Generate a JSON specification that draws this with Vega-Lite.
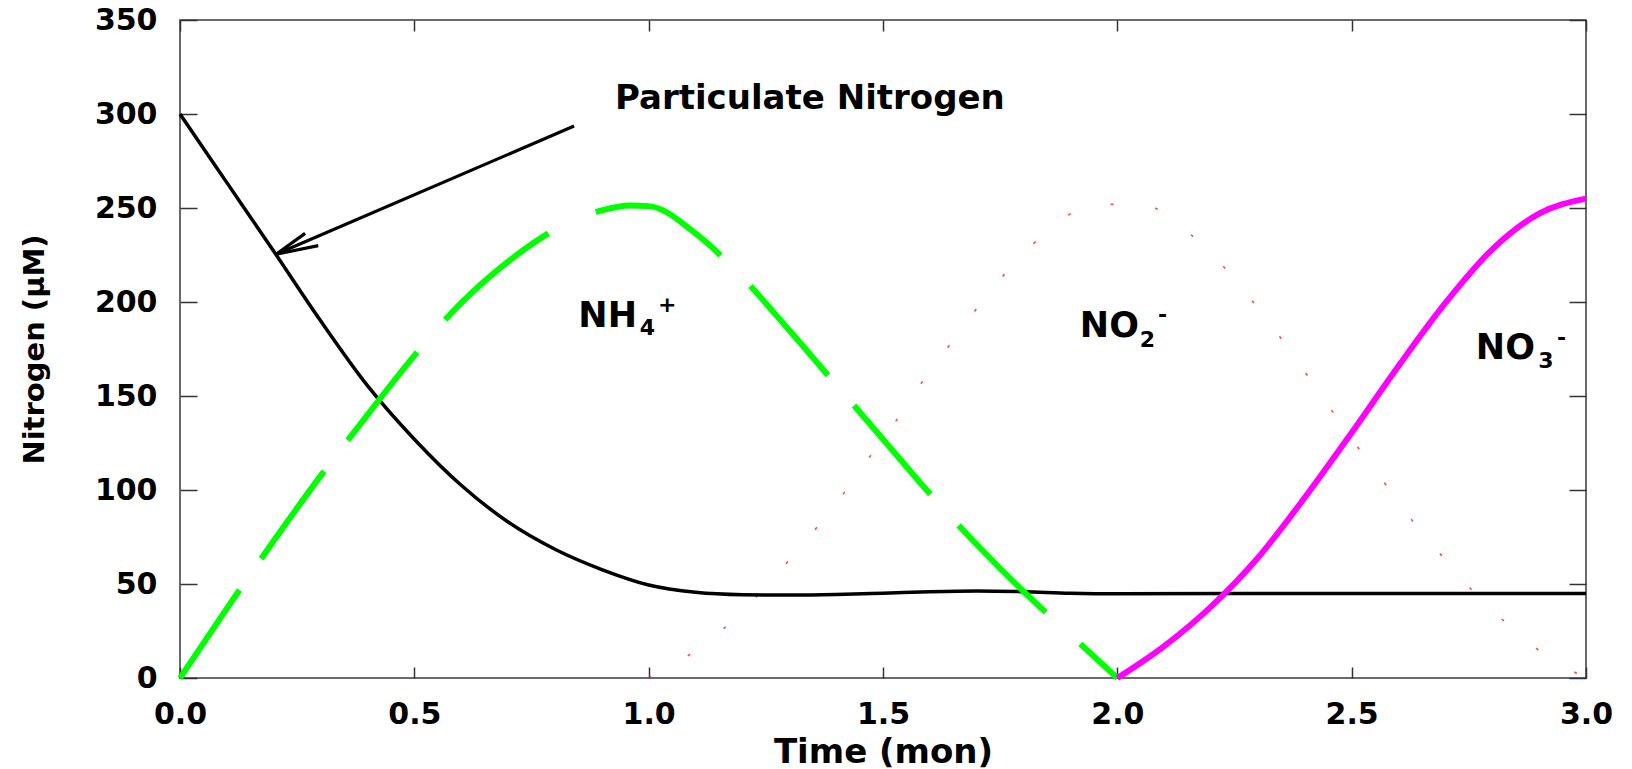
{
  "$schema": "https://vega.github.io/schema/vega-lite/v6.json",
  "width": 1406,
  "height": 658,
  "autosize": {"type": "none"},
  "padding": {"left": 180, "top": 20, "right": 46, "bottom": 91},
  "background": "white",
  "config": {
    "view": {"stroke": "#3a3a3a", "strokeWidth": 1.5},
    "axis": {
      "labelFont": "DejaVu Sans", "labelFontWeight": "bold", "labelFontSize": 30, "labelColor": "#000",
      "titleFont": "DejaVu Sans", "titleFontWeight": "bold", "titleColor": "#000",
      "domain": false, "grid": false, "tickColor": "#333", "tickWidth": 1.5,
      "labelFlush": false, "labelOverlap": false, "labelBound": false
    }
  },
  "datasets": {
    "pn": [
      {"t": 0, "v": 300}, {"t": 0.1, "v": 263.5}, {"t": 0.2, "v": 227}, {"t": 0.3, "v": 190},
      {"t": 0.4, "v": 155.5}, {"t": 0.5, "v": 127}, {"t": 0.6, "v": 102.5}, {"t": 0.7, "v": 83},
      {"t": 0.8, "v": 68.5}, {"t": 0.9, "v": 57.7}, {"t": 1.0, "v": 49.5}, {"t": 1.1, "v": 45.6},
      {"t": 1.2, "v": 44.3}, {"t": 1.3, "v": 44.1}, {"t": 1.4, "v": 44.4}, {"t": 1.5, "v": 45.1},
      {"t": 1.6, "v": 45.9}, {"t": 1.7, "v": 46.3}, {"t": 1.8, "v": 45.9}, {"t": 1.9, "v": 45.1},
      {"t": 2.0, "v": 44.8}, {"t": 2.5, "v": 45}, {"t": 3.0, "v": 45}
    ],
    "nh4": [
      {"t": 0, "v": 0}, {"t": 0.1, "v": 37}, {"t": 0.2, "v": 73}, {"t": 0.3, "v": 107.5},
      {"t": 0.4, "v": 140}, {"t": 0.5, "v": 171.5}, {"t": 0.6, "v": 199.5}, {"t": 0.7, "v": 221.5},
      {"t": 0.8, "v": 238.5}, {"t": 0.9, "v": 248.7}, {"t": 0.96, "v": 251.3}, {"t": 1.0, "v": 251},
      {"t": 1.1, "v": 236.5}, {"t": 1.2, "v": 213}, {"t": 1.3, "v": 185}, {"t": 1.4, "v": 156},
      {"t": 1.5, "v": 127}, {"t": 1.6, "v": 98}, {"t": 1.7, "v": 71}, {"t": 1.8, "v": 46},
      {"t": 1.9, "v": 23}, {"t": 2.0, "v": 0}
    ],
    "no2": [
      {"t": 1.0, "v": 0}, {"t": 1.102, "v": 14.9}, {"t": 1.184, "v": 31.7}, {"t": 1.252, "v": 49.1},
      {"t": 1.312, "v": 66.3}, {"t": 1.369, "v": 83.2}, {"t": 1.423, "v": 100.5}, {"t": 1.471, "v": 117.4},
      {"t": 1.522, "v": 134.6}, {"t": 1.568, "v": 152}, {"t": 1.618, "v": 168.8}, {"t": 1.668, "v": 186},
      {"t": 1.721, "v": 203.2}, {"t": 1.78, "v": 220.6}, {"t": 1.851, "v": 237.4}, {"t": 1.952, "v": 252},
      {"t": 2.055, "v": 251.6}, {"t": 2.155, "v": 236.2}, {"t": 2.225, "v": 219.3}, {"t": 2.283, "v": 202},
      {"t": 2.336, "v": 185.1}, {"t": 2.386, "v": 167.9}, {"t": 2.434, "v": 150.5}, {"t": 2.482, "v": 133.7},
      {"t": 2.531, "v": 116.5}, {"t": 2.584, "v": 99.1}, {"t": 2.635, "v": 81.9}, {"t": 2.692, "v": 65.1},
      {"t": 2.752, "v": 48}, {"t": 2.824, "v": 30.5}, {"t": 2.905, "v": 13.7}, {"t": 3.0, "v": 0}
    ],
    "no3": [
      {"t": 2.0, "v": 0}, {"t": 2.1, "v": 17}, {"t": 2.2, "v": 38}, {"t": 2.3, "v": 64},
      {"t": 2.4, "v": 96}, {"t": 2.5, "v": 130.5}, {"t": 2.6, "v": 166}, {"t": 2.7, "v": 199.5},
      {"t": 2.8, "v": 228}, {"t": 2.9, "v": 247}, {"t": 3.0, "v": 255}
    ],
    "arrow": [
      {"t": 0.841, "v": 293.6, "t2": 0.205, "v2": 225.4},
      {"t": 0.205, "v": 225.4, "t2": 0.267, "v2": 236.5},
      {"t": 0.205, "v": 225.4, "t2": 0.295, "v2": 230.0}
    ],
    "pnlabel": [{"t": 1.344, "v": 302.7, "text": "Particulate Nitrogen"}],
    "main": [
      {"t": 0.975, "v": 186.9, "text": "NH"},
      {"t": 2.046, "v": 181.5, "text": "NO"},
      {"t": 2.891, "v": 169.7, "text": "NO"}
    ],
    "sub": [
      {"t": 0.981, "v": 182.4, "text": "4"},
      {"t": 2.048, "v": 176.1, "text": "2"},
      {"t": 2.898, "v": 164.7, "text": "3"}
    ],
    "sup": [
      {"t": 1.02, "v": 194.7, "text": "+"},
      {"t": 2.087, "v": 189.6, "text": "-"},
      {"t": 2.938, "v": 177.3, "text": "-"}
    ]
  },
  "layer": [
    {
      "encoding": {
        "x": {"field": "t", "type": "quantitative", "scale": {"domain": [0, 3], "nice": false, "zero": false},
          "axis": {"title": "Time (mon)", "values": [0, 0.5, 1, 1.5, 2, 2.5, 3], "format": ".1f", "tickSize": -11, "labelPadding": 32,
            "titleFontSize": 34, "titleX": 703, "titleY": 84, "titleBaseline": "alphabetic"}},
        "y": {"field": "v", "type": "quantitative", "scale": {"domain": [0, 350], "nice": false},
          "axis": {"title": "Nitrogen (μM)", "values": [0, 50, 100, 150, 200, 250, 300, 350], "format": "d", "tickSize": -17, "labelPadding": 40,
            "titleFontSize": 29, "titleX": -137, "titleY": 329, "titleAngle": -90, "titleBaseline": "alphabetic"}}
      },
      "layer": [
        {"data": {"name": "no2"}, "mark": {"type": "line", "interpolate": "monotone", "color": "#ff2a2a", "strokeWidth": 1.6, "strokeDash": [3, 42], "opacity": 0.85}},
        {"data": {"name": "pn"}, "mark": {"type": "line", "interpolate": "monotone", "color": "#000000", "strokeWidth": 3.5}},
        {"data": {"name": "nh4"}, "mark": {"type": "line", "interpolate": "monotone", "color": "#00ff00", "strokeWidth": 6, "strokeCap": "butt",
          "strokeDash": [106, 38, 108, 39, 112, 43, 135, 52, 142, 43, 118, 40, 117, 42, 123, 47, 200, 10]}},
        {"data": {"name": "no3"}, "mark": {"type": "line", "interpolate": "monotone", "color": "#ff00ff", "strokeWidth": 6}},
        {"data": {"name": "arrow"}, "mark": {"type": "rule", "color": "#000000", "strokeWidth": 3.2},
          "encoding": {"x2": {"field": "t2"}, "y2": {"field": "v2"}}},
        {"data": {"name": "pnlabel"}, "mark": {"type": "text", "font": "DejaVu Sans", "fontWeight": "bold", "fontSize": 34, "align": "center", "baseline": "alphabetic", "color": "#000"},
          "encoding": {"text": {"field": "text"}}},
        {"data": {"name": "main"}, "mark": {"type": "text", "font": "DejaVu Sans", "fontWeight": "bold", "fontSize": 35, "align": "right", "baseline": "alphabetic", "color": "#000"},
          "encoding": {"text": {"field": "text"}}},
        {"data": {"name": "sub"}, "mark": {"type": "text", "font": "DejaVu Sans", "fontWeight": "bold", "fontSize": 22, "align": "left", "baseline": "alphabetic", "color": "#000"},
          "encoding": {"text": {"field": "text"}}},
        {"data": {"name": "sup"}, "mark": {"type": "text", "font": "DejaVu Sans", "fontWeight": "bold", "fontSize": 22, "align": "left", "baseline": "alphabetic", "color": "#000"},
          "encoding": {"text": {"field": "text"}}}
      ]
    },
    {
      "data": {"name": "pn"},
      "mark": {"type": "line", "strokeOpacity": 0},
      "encoding": {
        "x": {"field": "t", "type": "quantitative", "scale": {"domain": [0, 3], "nice": false, "zero": false},
          "axis": {"orient": "top", "labels": false, "title": null, "values": [0, 0.5, 1, 1.5, 2, 2.5, 3], "tickSize": -11}},
        "y": {"field": "v", "type": "quantitative", "scale": {"domain": [0, 350], "nice": false},
          "axis": {"orient": "right", "labels": false, "title": null, "values": [0, 50, 100, 150, 200, 250, 300, 350], "tickSize": -17}}
      }
    }
  ],
  "resolve": {"axis": {"x": "independent", "y": "independent"}}
}
